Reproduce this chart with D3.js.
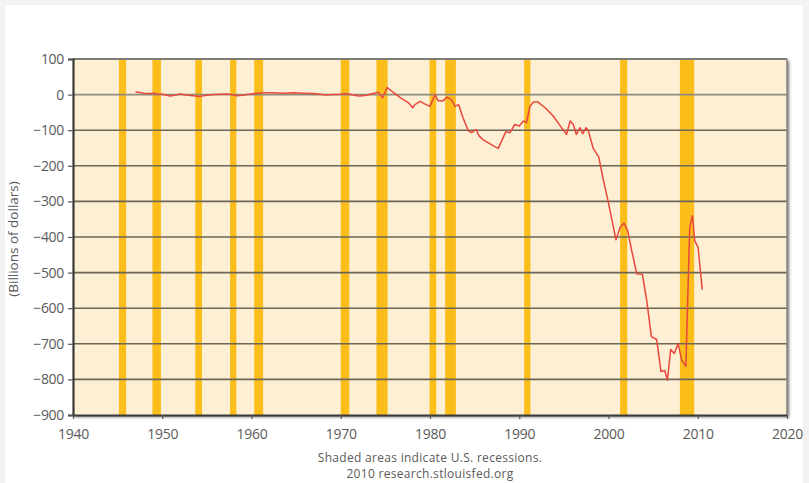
<!DOCTYPE html>
<html>
<head>
<meta charset="utf-8">
<script src="https://cdn.jsdelivr.net/npm/d3@7"></script>
<style>
  html, body { margin: 0; padding: 0; background: #f2f2f2; }
  svg { display: block; }
  text { font-family: "Open Sans", "Noto Sans", sans-serif; fill: #5a5a5a; }
</style>
</head>
<body>
<svg id="chart" width="809" height="483"></svg>
<script>
// U.S. current account balance, billions of dollars (annualized, quarterly readings)
const years = [
  1947.0, 1947.5, 1947.9, 1948.5, 1949.0, 1949.5, 1950.0, 1950.9, 1951.5, 1952.0,
  1952.9, 1953.5, 1954.2, 1955.0, 1955.7, 1956.5, 1957.2, 1957.8, 1958.3, 1959.0,
  1959.5, 1960.0, 1960.6, 1961.5, 1962.4, 1963.5, 1964.7, 1965.8, 1966.9, 1967.7,
  1968.4, 1969.0, 1969.5, 1970.0, 1970.5, 1971.0, 1971.4, 1972.0, 1972.5, 1972.9,
  1973.6, 1974.2, 1974.7, 1975.2, 1975.9, 1976.6, 1977.0, 1977.6, 1978.06, 1978.3,
  1978.9, 1979.4, 1980.0, 1980.56, 1980.9, 1981.5, 1981.9, 1982.4, 1982.8, 1983.2,
  1983.7, 1984.3, 1984.67, 1985.15, 1985.5, 1986.0, 1986.5, 1987.1, 1987.65, 1988.03,
  1988.5, 1988.96, 1989.5, 1990.0, 1990.45, 1990.8, 1991.2, 1991.6, 1992.1, 1992.9,
  1993.8, 1994.6, 1995.3, 1995.7, 1996.06, 1996.4, 1996.8, 1997.1, 1997.5, 1997.74,
  1998.3, 1998.9, 1999.4, 2000.0, 2000.47, 2000.84, 2001.3, 2001.74, 2002.15, 2002.6,
  2003.16, 2003.8, 2004.28, 2004.8, 2005.4, 2005.88, 2006.3, 2006.6, 2006.97, 2007.37,
  2007.8, 2008.2, 2008.67, 2009.1, 2009.4, 2009.66, 2010.04, 2010.5
];
const balance = [
  7, 6, 4, 3, 4, 2, 1, -4, -1, 2,
  -2, -3, -5, -2, 0, 1, 2, 0, -3, -2,
  0, 2, 4, 5, 5, 4, 5, 4, 3, 1,
  -1, 0, 0, 1, 3, 1, -1, -4, -3, -2,
  3, 7, -9, 20, 6, -7, -14, -23, -37, -28,
  -19, -26, -33, 0, -17, -17, -7, -14, -33, -28,
  -65, -102, -107, -98, -116, -128, -135, -144, -151, -130,
  -104, -107, -84, -88, -74, -79, -33, -21, -21, -37,
  -60, -88, -112, -74, -84, -112, -93, -110, -93, -102,
  -152, -175, -237, -305, -363, -408, -373, -361, -382, -438,
  -503, -505, -578, -680, -688, -778, -775, -802, -716, -727,
  -699, -746, -763, -373, -340, -410, -429, -548
];

// Recession periods (start, end) in decimal years
const recessionStart = [1945.15, 1948.9, 1953.7, 1957.6, 1960.3, 1970.0, 1974.0, 1979.95, 1981.7, 1990.55, 2001.3, 2008.0];
const recessionEnd   = [1945.95, 1949.85, 1954.45, 1958.3, 1961.3, 1970.95, 1975.25, 1980.7, 1982.9, 1991.25, 2002.1, 2009.6];

const yTicks = [100, 0, -100, -200, -300, -400, -500, -600, -700, -800, -900];
const xTicks = [1940, 1950, 1960, 1970, 1980, 1990, 2000, 2010, 2020];
const yTitle = "(Billions of dollars)";
const notes = ["Shaded areas indicate U.S. recessions.", "2010 research.stlouisfed.org"];

const svg = d3.select("#chart");
const m = { left: 73, right: 787, top: 59, bottom: 415 };

const x = d3.scaleLinear().domain([1940, 2020]).range([m.left, m.right]);
const y = d3.scaleLinear().domain([-900, 100]).range([m.bottom, m.top]);

// white page panel
svg.append("rect").attr("x", 5).attr("y", 5).attr("width", 798).attr("height", 478).attr("fill", "#fff");

const defs = svg.append("defs");
const shadow = defs.append("filter").attr("id", "shadow")
  .attr("x", "-5%").attr("y", "-5%").attr("width", "110%").attr("height", "110%");
shadow.append("feDropShadow").attr("dx", 2).attr("dy", 2).attr("stdDeviation", 1.8)
  .attr("flood-color", "#333").attr("flood-opacity", 0.7);

// plot background with shadow
svg.append("rect")
  .attr("x", m.left).attr("y", m.top)
  .attr("width", m.right - m.left).attr("height", m.bottom - m.top)
  .attr("fill", "#fdefd3")
  .attr("filter", "url(#shadow)");

// recession shading
svg.append("g").selectAll("rect")
  .data(recessionStart.map((s, i) => [s, recessionEnd[i]]))
  .join("rect")
  .attr("x", d => x(d[0]))
  .attr("width", d => x(d[1]) - x(d[0]))
  .attr("y", m.top)
  .attr("height", m.bottom - m.top)
  .attr("fill", "#fbbd1a");

// horizontal grid lines
svg.append("g").selectAll("line")
  .data(yTicks.filter(v => v !== 100 && v !== -900))
  .join("line")
  .attr("x1", m.left).attr("x2", m.right)
  .attr("y1", d => y(d)).attr("y2", d => y(d))
  .attr("stroke", d => d === 0 ? "#8f8c80" : "#6d6757")
  .attr("stroke-width", 1.6);

// frame edges
svg.append("line").attr("x1", m.left).attr("x2", m.right).attr("y1", m.top).attr("y2", m.top)
  .attr("stroke", "#7d7b76").attr("stroke-width", 2.2);
svg.append("line").attr("x1", m.right).attr("x2", m.right).attr("y1", m.top).attr("y2", m.bottom)
  .attr("stroke", "#8a8780").attr("stroke-width", 1.5);

// data line
const line = d3.line().x((d, i) => x(years[i])).y(d => y(d));
svg.append("path")
  .datum(balance)
  .attr("d", line)
  .attr("fill", "none")
  .attr("stroke", "#e8473b")
  .attr("stroke-width", 1.5)
  .attr("stroke-linejoin", "round");

// y axis
const yAxis = d3.axisLeft(y).tickValues(yTicks).tickSize(5).tickPadding(4)
  .tickFormat(d => d < 0 ? "\u2212" + Math.abs(d) : String(d));
const gy = svg.append("g").attr("transform", `translate(${m.left},0)`).call(yAxis);
gy.select(".domain").attr("stroke", "#3a3a3a").attr("stroke-width", 2.2);
gy.selectAll(".tick line").attr("stroke", "#555").attr("stroke-width", 1.2);
gy.selectAll(".tick text").style("font-size", "14px").style("letter-spacing", "-0.3px").attr("fill", "#5a5a5a");

// x axis
const xAxis = d3.axisBottom(x).tickValues(xTicks).tickSize(4).tickPadding(10).tickFormat(d3.format("d"));
const gx = svg.append("g").attr("transform", `translate(0,${m.bottom})`).call(xAxis);
gx.select(".domain").attr("stroke", "#3a3a3a").attr("stroke-width", 2.2);
gx.selectAll(".tick line").attr("stroke", "#555").attr("stroke-width", 1.2);
gx.selectAll(".tick text").style("font-size", "14px").style("letter-spacing", "-0.3px").attr("fill", "#5a5a5a");
gx.selectAll("path.domain").attr("d", `M${m.left},0.5H${m.right}`);

// y axis title
svg.append("text")
  .attr("transform", `translate(18,${(m.top + m.bottom) / 2 + 2}) rotate(-90)`)
  .attr("text-anchor", "middle")
  .style("font-size", "13.5px")
  .text(yTitle);

// source notes
svg.append("g").selectAll("text")
  .data(notes)
  .join("text")
  .attr("x", 430)
  .attr("y", (d, i) => 462 + i * 16)
  .attr("text-anchor", "middle")
  .style("font-size", "12px")
  .style("letter-spacing", "0.3px")
  .text(d => d);
</script>
</body>
</html>
